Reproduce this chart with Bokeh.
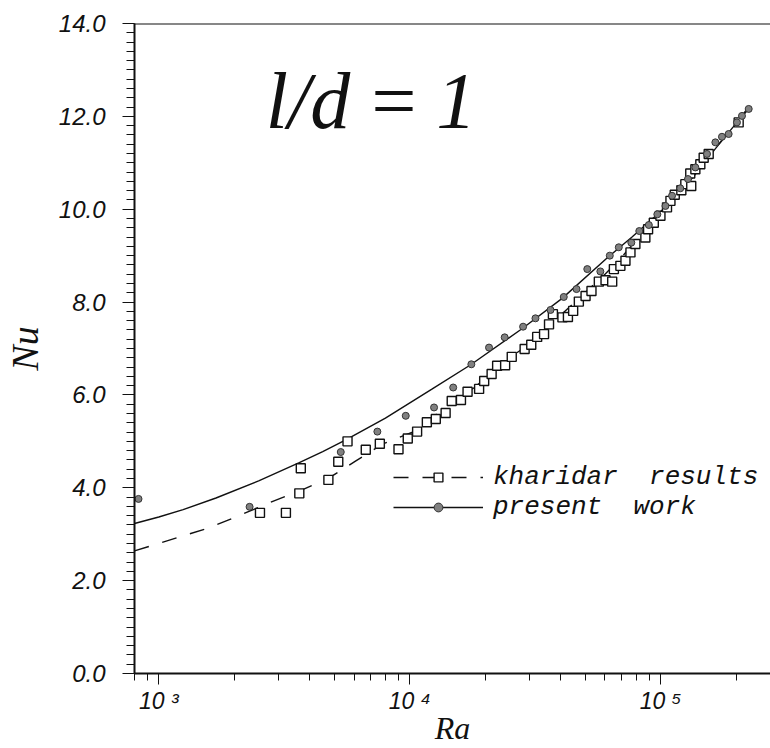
from bokeh.plotting import figure
from bokeh.models import (Range1d, FixedTicker, PrintfTickFormatter, Legend, LegendItem,
                          Label, Span)
from bokeh.embed import file_html
from bokeh.resources import INLINE

# ---- data ----
present_ra = [830, 2300, 5310, 7430, 9640, 12500, 14900, 17600, 20700, 23900, 28300, 31700,
              36400, 41100, 46200, 51000, 57500, 62700, 68100, 76400, 82200, 89700, 97000,
              104500, 111000, 119700, 128500, 137500, 153000, 165200, 175500, 186600, 201400,
              210900, 224300]
present_nu = [3.76, 3.59, 4.77, 5.21, 5.55, 5.73, 6.16, 6.66, 7.02, 7.24, 7.47, 7.65,
              7.83, 8.11, 8.28, 8.71, 8.66, 9.00, 9.18, 9.28, 9.53, 9.66, 9.89,
              10.07, 10.29, 10.45, 10.65, 10.90, 11.19, 11.44, 11.56, 11.62, 11.87,
              12.01, 12.16]

khari_ra = [2530, 3210, 3630, 3680, 4740, 5190, 5650, 6680, 7600, 9020, 9820, 10700, 11700,
            12700, 13900, 14700, 16000, 17000, 18900, 19800, 21200, 22300, 24000, 25500,
            28700, 30500, 32200, 34300, 35900, 37200, 40600, 42700, 44800, 47200, 50200,
            53000, 56700, 60300, 64100, 65100, 69100, 72400, 75800, 79300, 86900, 89100,
            93900, 99800, 106000, 109400, 113800, 120900, 125400, 132400, 131200, 137500,
            143900, 148400, 155400, 204600]
khari_nu = [3.46, 3.46, 3.88, 4.42, 4.17, 4.56, 5.00, 4.82, 4.95, 4.83, 5.06, 5.21, 5.41,
            5.48, 5.61, 5.87, 5.89, 6.07, 6.13, 6.30, 6.45, 6.63, 6.64, 6.82,
            6.99, 7.08, 7.25, 7.31, 7.52, 7.74, 7.67, 7.68, 7.81, 8.01, 8.13,
            8.24, 8.44, 8.47, 8.44, 8.71, 8.78, 8.89, 9.07, 9.25, 9.39, 9.57,
            9.71, 9.86, 10.04, 10.18, 10.31, 10.41, 10.54, 10.50, 10.77, 10.86,
            10.97, 11.11, 11.19, 11.87]

present_fit_ra = [800, 1000, 1250, 1690, 2500, 3630, 4500, 5560, 8000, 12300, 17500, 28100,
                  40500, 62100, 76900, 104400, 135000, 165000, 195000, 224000]
present_fit_nu = [3.23, 3.37, 3.53, 3.78, 4.15, 4.54, 4.78, 5.03, 5.50, 6.13, 6.65, 7.43,
                  8.08, 8.98, 9.40, 10.04, 10.70, 11.30, 11.78, 12.20]

khari_fit_ra = [800, 1590, 2090, 2760, 3630, 4700, 6100, 7780, 10600, 13500, 18000, 25600,
                33000, 40000, 50000, 60000, 70000, 80000, 105000, 150000, 224000]
khari_fit_nu = [2.64, 3.14, 3.40, 3.68, 3.93, 4.19, 4.58, 4.94, 5.23, 5.69, 6.15, 6.84,
                7.25, 7.72, 8.20, 8.60, 8.97, 9.33, 10.05, 11.05, 12.16]

x_major = [1000, 10000, 100000]
x_minor = [800, 900, 2000, 3000, 4000, 5000, 6000, 7000, 8000, 9000,
           20000, 30000, 40000, 50000, 60000, 70000, 80000, 90000, 200000]
x_labels = {1000: "10 \u00b3", 10000: "10 \u2074", 100000: "10 \u2075"}
y_major = [0, 2, 4, 6, 8, 10, 12, 14]
y_minor = [round(i * 0.2, 1) for i in range(71)]

INK = "#111111"

# ---- figure ----
p = figure(width=770, height=748, x_axis_type="log",
           x_range=Range1d(800, 274000), y_range=Range1d(0, 14),
           output_backend="svg", toolbar_location=None,
           min_border_left=133, min_border_right=0, min_border_top=23, min_border_bottom=75)
p.grid.visible = False
p.outline_line_color = None
p.background_fill_color = "white"
p.border_fill_color = "white"

sl = p.line(present_fit_ra, present_fit_nu, line_color=INK, line_width=1.4)
dl = p.line(khari_fit_ra, khari_fit_nu, line_color=INK, line_width=1.4, line_dash="15 14")
sq = p.scatter(khari_ra, khari_nu, marker="square", size=9, fill_color="white",
               line_color=INK, line_width=1.4)
ci = p.scatter(present_ra, present_nu, marker="circle", size=7, fill_color="#808080",
               line_color="#333333", line_width=1)

p.add_layout(Span(location=14, dimension="width", line_color=INK, line_width=2))

# axes
xa = p.xaxis[0]
xa.ticker = FixedTicker(ticks=x_major, minor_ticks=x_minor)
xa.major_label_overrides = x_labels
ya = p.yaxis[0]
ya.ticker = FixedTicker(ticks=y_major, minor_ticks=y_minor)
ya.formatter = PrintfTickFormatter(format="%.1f")

for ax in (xa, ya):
    ax.axis_line_color = INK
    ax.axis_line_width = 2
    ax.major_tick_line_color = INK
    ax.minor_tick_line_color = INK
    ax.major_tick_in = 0
    ax.minor_tick_in = 0
    ax.major_label_text_font = "Liberation Sans"
    ax.major_label_text_font_style = "italic"
    ax.major_label_text_color = INK
    ax.axis_label_text_font = "Liberation Serif"
    ax.axis_label_text_font_style = "italic"
    ax.axis_label_text_color = INK

xa.major_label_text_font_size = "23px"
xa.major_tick_out = 11
xa.minor_tick_out = 7
xa.major_label_standoff = 3
xa.axis_label = "Ra"
xa.axis_label_text_font_size = "32px"
xa.axis_label_standoff = -7

ya.major_label_text_font_size = "24px"
ya.major_tick_out = 12
ya.minor_tick_out = 8
ya.major_label_standoff = 17
ya.axis_label = "Nu"
ya.axis_label_text_font_size = "38px"
ya.axis_label_standoff = 10

# title inside plot
p.add_layout(Label(x=2670, y=12.34, text="l/d\u2009=\u20091", text_font="Liberation Serif",
                   text_font_style="italic", text_font_size="80px", text_color=INK,
                   text_baseline="alphabetic"))

legend = Legend(items=[LegendItem(label="kharidar\u00a0\u00a0results", renderers=[dl, sq]),
                       LegendItem(label="present\u00a0\u00a0work", renderers=[sl, ci])],
                location=(259, 151))
legend.label_text_font = "Liberation Mono"
legend.label_text_font_style = "italic"
legend.label_text_font_size = "26px"
legend.label_text_color = INK
legend.glyph_width = 90
legend.glyph_height = 22
legend.label_standoff = 10
legend.spacing = 0
legend.padding = 0
legend.margin = 0
legend.background_fill_alpha = 0
legend.border_line_color = None
p.add_layout(legend)

open("out.html", "w").write(file_html(p, INLINE))
